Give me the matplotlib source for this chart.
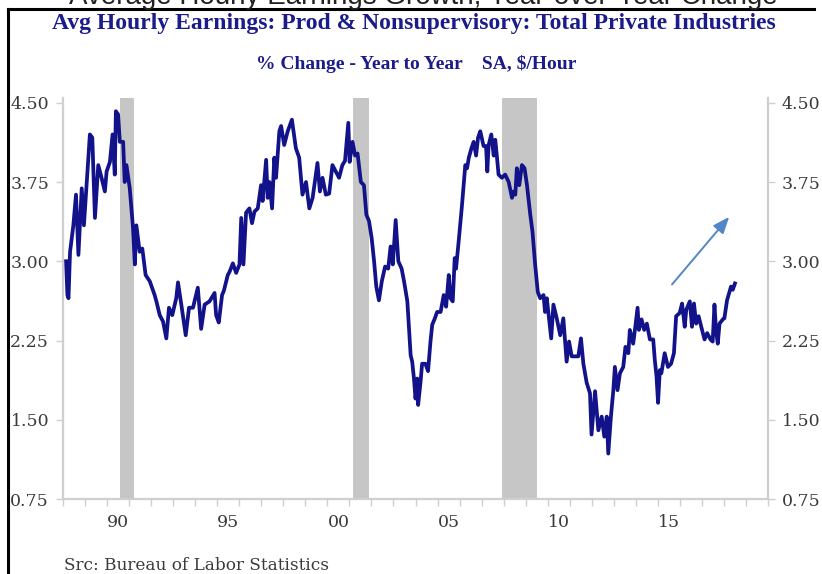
import matplotlib
matplotlib.use("Agg")
import matplotlib.pyplot as plt
from matplotlib.lines import Line2D

# Average hourly earnings, production & nonsupervisory, total private, % y/y
dates = [
    1988.14, 1988.20, 1988.25, 1988.32, 1988.47, 1988.59, 1988.70, 1988.85, 1988.95,
    1989.04, 1989.22, 1989.33, 1989.45, 1989.60, 1989.75, 1989.90, 1989.98,
    1990.13, 1990.25, 1990.35, 1990.40, 1990.50, 1990.58, 1990.73, 1990.80, 1990.88,
    1991.03, 1991.18, 1991.26, 1991.33, 1991.48, 1991.60, 1991.75, 1991.94,
    1992.16, 1992.24, 1992.39, 1992.54, 1992.69, 1992.81, 1992.96,
    1993.14, 1993.22, 1993.37, 1993.57, 1993.72, 1993.90,
    1994.12, 1994.27, 1994.43, 1994.65, 1994.88, 1994.95,
    1995.07, 1995.22, 1995.30, 1995.48, 1995.56, 1995.71, 1995.86,
    1996.01, 1996.09, 1996.19, 1996.31, 1996.46, 1996.58, 1996.69, 1996.84, 1996.99,
    1997.06, 1997.22, 1997.29, 1997.37, 1997.49, 1997.59, 1997.67, 1997.82, 1997.90,
    1998.04, 1998.20, 1998.39, 1998.57, 1998.72, 1998.87,
    1999.03, 1999.18, 1999.33, 1999.55, 1999.66, 1999.78, 1999.93,
    2000.08, 2000.23, 2000.38, 2000.53, 2000.68, 2000.80, 2000.95,
    2001.01, 2001.14, 2001.26, 2001.37, 2001.52, 2001.66, 2001.77, 2001.89,
    2002.01, 2002.12, 2002.22, 2002.34, 2002.47, 2002.62, 2002.76, 2002.87, 2002.97,
    2003.10, 2003.22, 2003.37, 2003.48, 2003.63, 2003.78, 2003.85, 2003.93,
    2004.00, 2004.08, 2004.12, 2004.23, 2004.30, 2004.45, 2004.57, 2004.68, 2004.76, 2004.88, 2004.98,
    2005.14, 2005.28, 2005.39, 2005.51, 2005.59, 2005.69, 2005.78, 2005.84, 2005.96,
    2006.11, 2006.26, 2006.34, 2006.42, 2006.54, 2006.64, 2006.75, 2006.84, 2006.94,
    2007.09, 2007.20, 2007.26, 2007.32, 2007.44, 2007.55, 2007.62, 2007.70, 2007.77, 2007.92,
    2008.07, 2008.23, 2008.38, 2008.45, 2008.53, 2008.60, 2008.71, 2008.83, 2008.95,
    2009.06, 2009.21, 2009.31, 2009.43, 2009.55, 2009.66, 2009.81, 2009.88, 2009.96,
    2010.16, 2010.26, 2010.41, 2010.57, 2010.71, 2010.86, 2010.97,
    2011.09, 2011.24, 2011.39, 2011.51, 2011.62, 2011.77, 2011.92, 2011.99,
    2012.15, 2012.30, 2012.45, 2012.57, 2012.68, 2012.75, 2012.87, 2012.98,
    2013.05, 2013.17, 2013.28, 2013.43, 2013.53, 2013.66, 2013.73, 2013.88, 2013.96,
    2014.08, 2014.14, 2014.26, 2014.38, 2014.50, 2014.64, 2014.79, 2014.86, 2014.94,
    2015.01, 2015.09, 2015.16, 2015.31, 2015.46, 2015.60, 2015.73, 2015.83, 2015.99,
    2016.10, 2016.22, 2016.29, 2016.45, 2016.55, 2016.64, 2016.74, 2016.85, 2016.97,
    2017.12, 2017.24, 2017.39, 2017.49, 2017.57, 2017.64, 2017.72, 2017.80, 2017.95,
    2018.02, 2018.14, 2018.25, 2018.32, 2018.40, 2018.50,
]
values = [
    3.00, 2.68, 2.65, 3.09, 3.34, 3.63, 3.06, 3.69, 3.34,
    3.63, 4.20, 4.17, 3.41, 3.91, 3.79, 3.66, 3.85,
    3.94, 4.20, 3.82, 4.42, 4.39, 4.13, 4.13, 3.75, 3.91,
    3.69, 3.31, 2.97, 3.34, 3.09, 3.12, 2.87, 2.81,
    2.68, 2.62, 2.49, 2.43, 2.27, 2.56, 2.49,
    2.65, 2.80, 2.59, 2.30, 2.56, 2.56,
    2.75, 2.36, 2.59, 2.62, 2.70, 2.49,
    2.42, 2.68, 2.72, 2.87, 2.90, 2.98, 2.89,
    2.97, 3.41, 2.97, 3.46, 3.50, 3.36, 3.47, 3.50, 3.72,
    3.57, 3.96, 3.60, 3.75, 3.50, 3.98, 3.79, 4.23, 4.28,
    4.10, 4.23, 4.34, 4.07, 3.98, 3.63,
    3.75, 3.50, 3.60, 3.93, 3.66, 3.79, 3.63,
    3.64, 3.91, 3.85, 3.79, 3.91, 3.95, 4.31,
    3.94, 4.13, 4.00, 4.02, 3.75, 3.72, 3.44, 3.38,
    3.22, 3.00, 2.76, 2.63, 2.81, 2.95, 2.93, 3.14, 2.97,
    3.39, 3.00, 2.93, 2.81, 2.62, 2.11, 2.05, 1.89,
    1.70, 1.89, 1.64, 1.86, 2.03, 2.03, 1.96, 2.24, 2.40, 2.46, 2.52,
    2.52, 2.68, 2.57, 2.87, 2.65, 2.62, 3.03, 2.93, 3.19,
    3.53, 3.91, 3.88, 3.98, 4.07, 4.13, 4.00, 4.17, 4.23,
    4.09, 4.09, 3.85, 4.10, 4.20, 4.00, 4.15, 3.98, 3.82, 3.79,
    3.82, 3.75, 3.60, 3.66, 3.63, 3.88, 3.72, 3.91, 3.88,
    3.72, 3.44, 3.28, 2.97, 2.71, 2.65, 2.68, 2.52, 2.65,
    2.27, 2.59, 2.46, 2.30, 2.46, 2.05, 2.24,
    2.10, 2.10, 2.10, 2.27, 2.03, 1.85, 1.75, 1.36,
    1.77, 1.40, 1.53, 1.34, 1.53, 1.18, 1.53, 1.78,
    2.00, 1.78, 1.94, 2.00, 2.19, 2.13, 2.35, 2.22, 2.35,
    2.56, 2.35, 2.45, 2.35, 2.41, 2.26, 2.26, 2.07, 1.91,
    1.66, 1.97, 1.94, 2.13, 2.00, 2.03, 2.13, 2.48, 2.51,
    2.60, 2.38, 2.54, 2.62, 2.38, 2.60, 2.41, 2.48, 2.38,
    2.26, 2.32, 2.26, 2.24, 2.59, 2.35, 2.22, 2.41, 2.45,
    2.46, 2.63, 2.71, 2.76, 2.73, 2.79,
]

# NBER recessions (start, end) in decimal years
recessions = [(1990.58, 1991.22), (2001.17, 2001.90), (2007.92, 2009.50)]

y_ticks = [0.75, 1.50, 2.25, 3.00, 3.75, 4.50]
x_label_years = [1990, 1995, 2000, 2005, 2010, 2015]
x_labels = ["90", "95", "00", "05", "10", "15"]

page_heading = "Average Hourly Earnings Growth, Year-over-Year Change"
title = "Avg Hourly Earnings: Prod & Nonsupervisory: Total Private Industries"
subtitle = "% Change - Year to Year    SA, $/Hour"
source = "Src: Bureau of Labor Statistics"

navy = "#1b1b8a"
line_color = "#12128a"
grey_axis = "#cfcfcf"
label_grey = "#3a3a3a"
serif = ["Liberation Serif", "DejaVu Serif"]
wide_serif = ["DejaVu Serif"]

W, H = 822, 574
fig = plt.figure(figsize=(W / 100, H / 100), dpi=100)
fig.patch.set_facecolor("white")

ax = fig.add_axes([63 / W, 1 - 499 / H, (768 - 63) / W, (499 - 98) / H])
ax.set_xlim(1988.0, 2020.0)
ax.set_ylim(0.75, 4.545)

for x0, x1 in recessions:
    ax.axvspan(x0, x1, color="#c6c6c6", lw=0, zorder=1)

ax.plot(dates, values, color=line_color, lw=2.7, solid_joinstyle="round", zorder=3)

# arrow highlighting the recent upturn
ax.annotate("", xy=(2018.32, 3.44), xytext=(2015.56, 2.76),
            arrowprops=dict(arrowstyle="-|>,head_length=1.0,head_width=0.4",
                            color="#5087c8", lw=1.4), zorder=4)

ax.spines["top"].set_visible(False)
for s in ["left", "right", "bottom"]:
    ax.spines[s].set_color(grey_axis)
    ax.spines[s].set_linewidth(1.6)

ax.set_yticks(y_ticks)
ax.set_yticklabels([f"{v:.2f}" for v in y_ticks])
ax.tick_params(axis="y", which="both", left=True, right=True, labelleft=True,
               labelright=True, length=5, width=1, color=grey_axis,
               labelcolor=label_grey, labelsize=12.5, pad=5)
for lab in ax.get_yticklabels():
    lab.set_family(wide_serif)

# year boundary ticks, labels centred inside each labelled year
ax.set_xticks(list(range(1988, 2021)))
ax.set_xticklabels([])
ax.tick_params(axis="x", which="major", length=5, width=1, color=grey_axis, direction="out")
ax.set_xticks([y + 0.5 for y in x_label_years], minor=True)
ax.set_xticklabels(x_labels, minor=True)
ax.tick_params(axis="x", which="minor", length=0, pad=11, labelsize=12.5,
               labelcolor=label_grey)
for lab in ax.get_xticklabels(minor=True):
    lab.set_family(wide_serif)

# slide heading, running off the top edge of the page
fig.text(0.515, 1 - 4 / H, page_heading, ha="center", va="baseline", fontsize=20,
         color="#222222", family=["Liberation Sans", "DejaVu Sans"])

# chart text
fig.text(0.503, 1 - 23 / H, title, ha="center", va="center", fontsize=17,
         fontweight="bold", color=navy, family=serif)
fig.text(0.506, 1 - 64 / H, subtitle, ha="center", va="center", fontsize=14,
         fontweight="bold", color=navy, family=serif)
fig.text(64 / W, 1 - 565 / H, source, ha="left", va="center", fontsize=12.2,
         color=label_grey, family=wide_serif)

# frame lines of the page
fig.add_artist(Line2D([8 / W, 8 / W], [0, 1 - 9 / H], transform=fig.transFigure,
                      color="black", lw=2.2))
fig.add_artist(Line2D([8 / W, 814 / W], [1 - 9 / H, 1 - 9 / H], transform=fig.transFigure,
                      color="black", lw=2.2))

fig.savefig("out.png", dpi=100, facecolor="white")
